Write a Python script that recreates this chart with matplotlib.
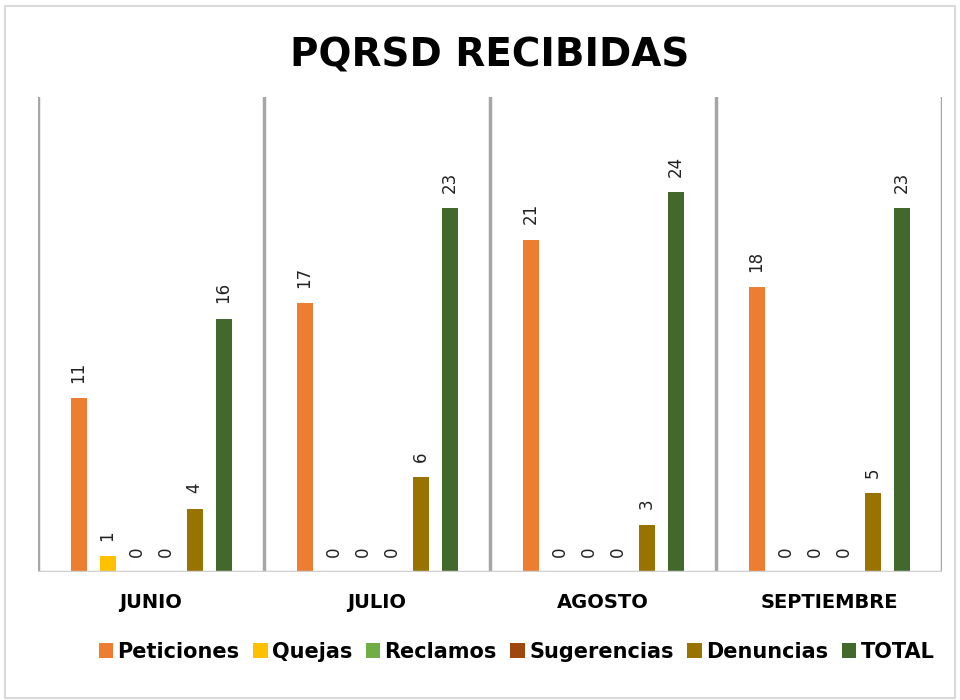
import matplotlib
matplotlib.use("Agg")
import matplotlib.pyplot as plt
from matplotlib.patches import Rectangle
import numpy as np

months = ["JUNIO", "JULIO", "AGOSTO", "SEPTIEMBRE"]
series_names = ["Peticiones", "Quejas", "Reclamos", "Sugerencias", "Denuncias", "TOTAL"]
peticiones = [11, 17, 21, 18]
quejas = [1, 0, 0, 0]
reclamos = [0, 0, 0, 0]
sugerencias = [0, 0, 0, 0]
denuncias = [4, 6, 3, 5]
total = [16, 23, 24, 23]
colors = ["#ED7D31", "#FFC000", "#70AD47", "#9E480E", "#997300", "#43682B"]
series = [peticiones, quejas, reclamos, sugerencias, denuncias, total]

fig = plt.figure(figsize=(9.6, 7), dpi=100)
fig.patches.append(Rectangle((0.005, 0.003), 0.99, 0.988, transform=fig.transFigure,
                             fill=False, edgecolor="#D9D9D9", linewidth=1.5))
ax = fig.add_axes([38/960, 1-572/700, (942-38)/960, (572-97)/700])
ax.set_xlim(-0.5, 3.5)
ax.set_ylim(0, 30)

x = np.arange(len(months))
step = 29/226
width = 16/226
for i, (name, vals, c) in enumerate(zip(series_names, series, colors)):
    offs = (i - 2.5) * step
    ax.bar(x + offs, vals, width=width, color=c, label=name, zorder=3)
    for xi, v in zip(x + offs, vals):
        ax.annotate(str(v), (xi, v), xytext=(0, 11), textcoords="offset points",
                    rotation=90, ha="center", va="bottom", fontsize=12, color="#222222")

for sx in [-0.5, 0.5, 1.5, 2.5, 3.5]:
    ax.axvline(sx, color="#A6A6A6", linewidth=2.5, zorder=2)
ax.axhline(0, color="#D0D0D0", linewidth=2.5, zorder=4)

for s in ax.spines.values():
    s.set_visible(False)
ax.set_yticks([])
ax.set_xticks(x)
ax.set_xticklabels(months, fontsize=14, fontweight="bold")
ax.tick_params(axis="x", length=0, pad=15)

fig.text(0.51, 1-55/700, "PQRSD RECIBIDAS", ha="center", va="center",
         fontsize=28, fontweight="bold")

fig.legend(loc="center", bbox_to_anchor=(0.538, 1-652/700), ncol=6, frameon=False,
           handlelength=0.7, handleheight=0.7, handletextpad=0.2, columnspacing=0.65,
           prop={"weight": "bold", "size": 15})

fig.savefig("out.png", dpi=100)
